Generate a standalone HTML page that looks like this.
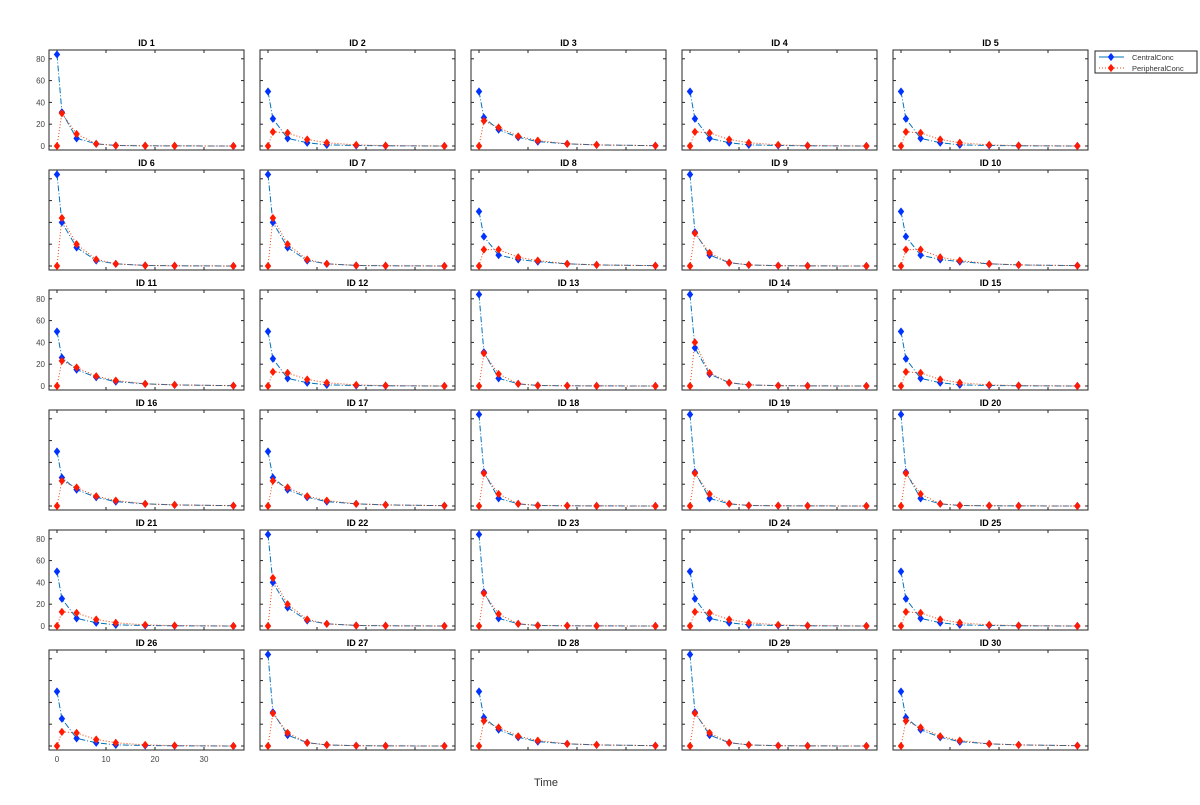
<!DOCTYPE html>
<html><head><meta charset="utf-8"><style>
body{margin:0;background:#fff;width:1200px;height:800px;overflow:hidden}
svg text{font-family:"Liberation Sans",sans-serif}
</style></head><body>
<svg id="s" width="1200" height="800" xmlns="http://www.w3.org/2000/svg"></svg>
<script>
const T=[0,1,4,8,12,18,24,36];
const A={C:[84,31,7,2,0.5,0.2,0.1,0],P:[0,30,11,2,0.5,0.2,0.1,0]};
const B={C:[50,25,7,3,1,0.5,0.2,0],P:[0,13,12,6,3,1,0.4,0]};
const Cc={C:[50,26,15,8,4,2,1,0.3],P:[0,23,17,9,5,2,1,0.3]};
const D={C:[84,40,17,5,2,0.5,0.2,0],P:[0,44,20,6,2,0.5,0.2,0]};
const E={C:[50,27,10,6,4,2,1,0.3],P:[0,15,15,8,5,2,1,0.3]};
const F={C:[84,31,10,3,1,0.3,0.1,0],P:[0,30,12,3,1,0.3,0.1,0]};
const G={C:[84,35,11,3,1,0.3,0.1,0],P:[0,40,12,3,1,0.3,0.1,0]};
const data=[A,B,Cc,B,B, D,D,E,F,E, Cc,B,A,G,B, Cc,Cc,A,A,A, B,D,A,B,B, B,F,Cc,F,Cc];
const X0=[49,260,471,682,893],W=195,H=100,Y0=[50,170,290,410,530,650];
let s='';
function dm(x,y,c){return `<path d="M${x} ${y-3.3}L${x+2.6} ${y}L${x} ${y+3.3}L${x-2.6} ${y}Z" fill="${c}" stroke="${c}" stroke-width="1"/>`;}
for(let i=0;i<30;i++){
 const r=Math.floor(i/5),c=i%5,x0=X0[c],y0=Y0[r];
 const fx=t=>x0+8+t*4.9, fy=v=>y0+96-v*1.09;
 s+=`<text x="${x0+W/2}" y="${y0-4}" font-size="9" font-weight="bold" text-anchor="middle">ID ${i+1}</text>`;
 s+=`<rect x="${x0}" y="${y0}" width="${W}" height="${H}" fill="none" stroke="#262626" stroke-width="1"/>`;
 for(const v of [0,20,40,60,80]){const y=fy(v);
  s+=`<line x1="${x0}" x2="${x0+3}" y1="${y}" y2="${y}" stroke="#262626"/><line x1="${x0+W}" x2="${x0+W-3}" y1="${y}" y2="${y}" stroke="#262626"/>`;
  if(r%2==0&&c==0) s+=`<text x="${x0-4}" y="${y+3}" font-size="8" fill="#444" text-anchor="end">${v}</text>`;}
 for(const t of [0,10,20,30]){const x=fx(t);
  s+=`<line x1="${x}" x2="${x}" y1="${y0+H}" y2="${y0+H-3}" stroke="#262626"/><line x1="${x}" x2="${x}" y1="${y0}" y2="${y0+3}" stroke="#262626"/>`;
  if(r==5&&c==0) s+=`<text x="${x}" y="${y0+H+12}" font-size="8" fill="#444" text-anchor="middle">${t}</text>`;}
 const d=data[i];
 const pc=T.map((t,k)=>fx(t)+','+fy(d.C[k])).join(' ');
 const pp=T.map((t,k)=>fx(t)+','+fy(d.P[k])).join(' ');
 s+=`<polyline points="${pc}" fill="none" stroke="#0072BD" stroke-dasharray="6,2,1,2"/>`;
 s+=`<polyline points="${pp}" fill="none" stroke="#E8400A" stroke-dasharray="1,2"/>`;
 T.forEach((t,k)=>{s+=dm(fx(t),fy(d.C[k]),'#0033ff');});
 T.forEach((t,k)=>{s+=dm(fx(t),fy(d.P[k]),'#ff1a00');});
}
s+=`<rect x="1095" y="51" width="102" height="22" fill="#fff" stroke="#262626"/>`;
s+=`<line x1="1099" x2="1124" y1="57" y2="57" stroke="#0072BD"/>`+dm(1111,57,'#0033ff');
s+=`<line x1="1099" x2="1124" y1="68" y2="68" stroke="#E8400A" stroke-dasharray="1,2"/>`+dm(1111,68,'#ff1a00');
s+=`<text x="1132" y="60" font-size="7.5" fill="#333">CentralConc</text><text x="1132" y="71" font-size="7.5" fill="#333">PeripheralConc</text>`;
s+=`<text x="546" y="786" font-size="11" fill="#333" text-anchor="middle">Time</text>`;
document.getElementById('s').innerHTML=s;
</script>
</body></html>
